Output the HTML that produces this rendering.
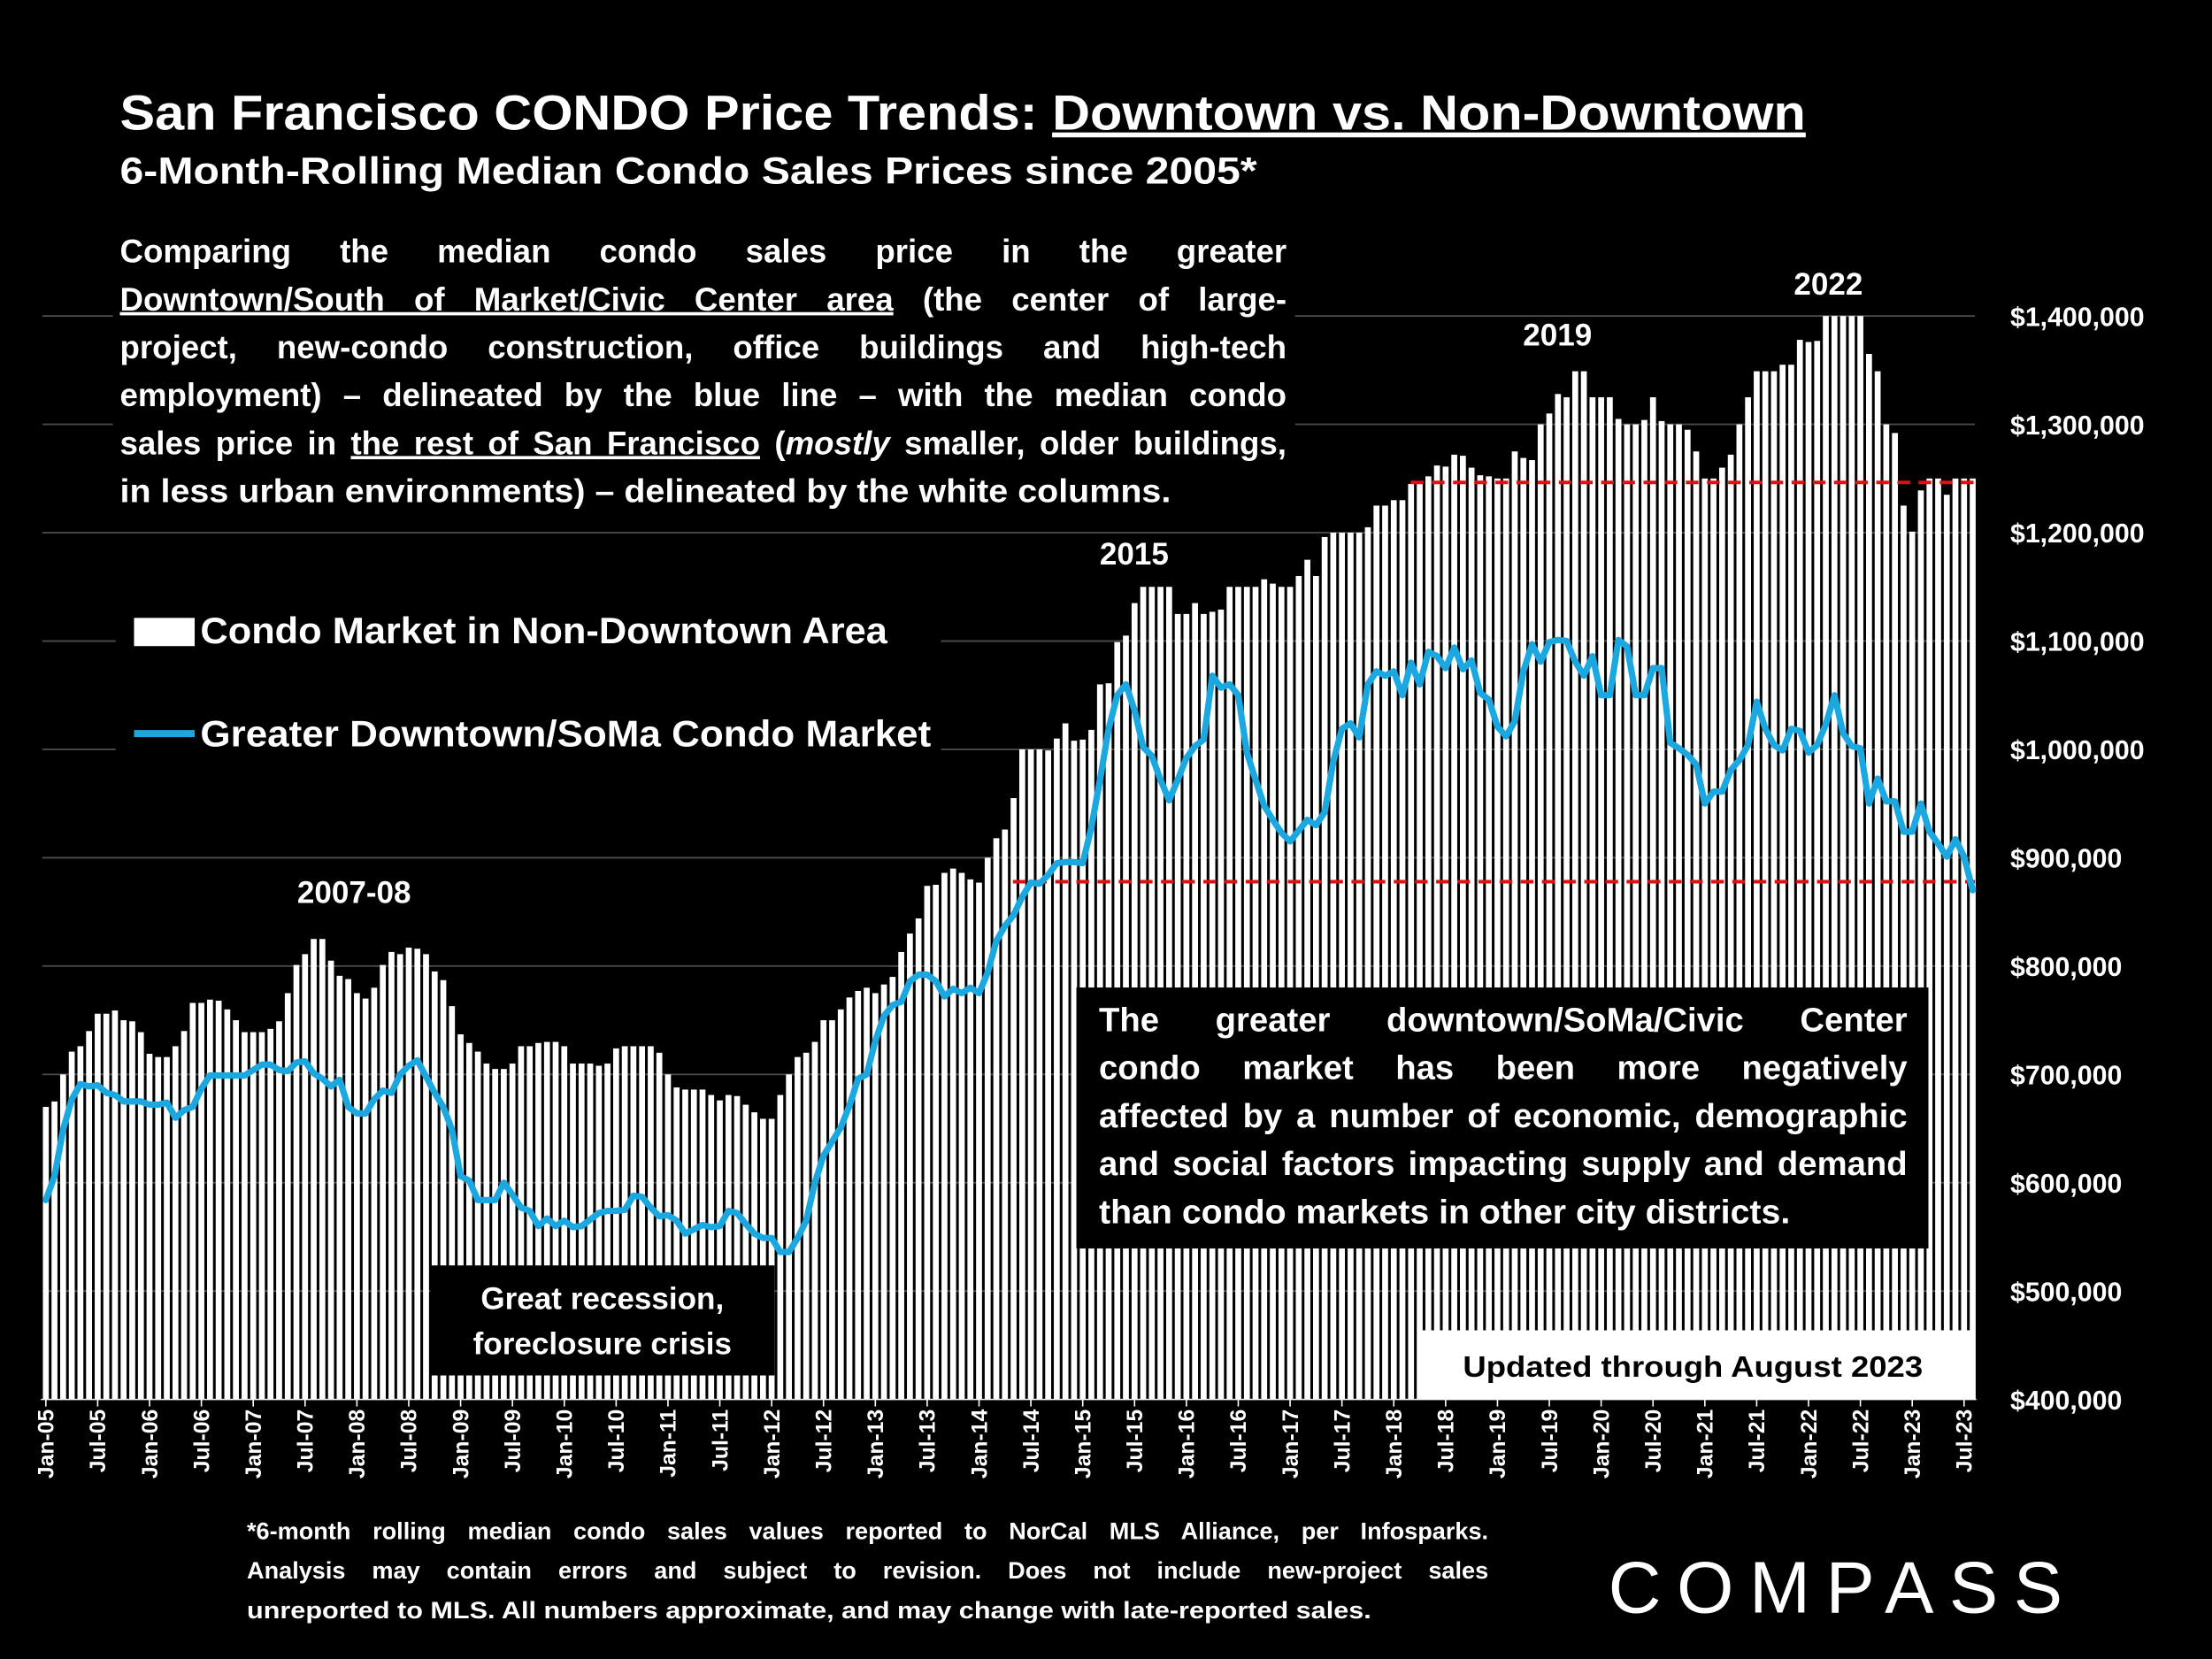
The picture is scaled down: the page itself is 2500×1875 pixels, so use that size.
<!DOCTYPE html>
<html><head><meta charset="utf-8"><style>
html,body{margin:0;padding:0;background:#000;}
svg{display:block;}
text{font-family:"Liberation Sans",Arial,sans-serif;font-weight:bold;fill:#fff;}
.u{text-decoration:underline;}
</style></head><body>
<svg id="chart" width="2500" height="1875" viewBox="0 0 1568 1176" xmlns="http://www.w3.org/2000/svg">
<rect x="0" y="0" width="1568" height="1176" fill="#000"/>
<g id="grid"></g>
<g id="bars"></g>
<line x1="1000" y1="342" x2="1400" y2="342" stroke="#e01010" stroke-width="2.5" stroke-dasharray="9,6"/>
<line x1="718" y1="625" x2="1400" y2="625" stroke="#e01010" stroke-width="2.5" stroke-dasharray="9,6"/>
<g id="line"></g>
<g id="yaxis"></g>
<g id="xaxis"></g>

<text x="85" y="92" font-size="35" textLength="1195" lengthAdjust="spacingAndGlyphs">San Francisco CONDO Price Trends: <tspan class="u">Downtown vs. Non-Downtown</tspan></text>
<text x="85" y="130" font-size="27" textLength="806" lengthAdjust="spacingAndGlyphs">6-Month-Rolling Median Condo Sales Prices since 2005*</text>

<g>
<rect x="80" y="160" width="838" height="205" fill="#000"/>
<text class="just" data-w="827" x="85" y="186" font-size="23">Comparing the median condo sales price in the greater</text>
<text class="just" data-w="827" x="85" y="220" font-size="23"><tspan class="u">Downtown/South of Market/Civic Center area</tspan> (the center of large-</text>
<text class="just" data-w="827" x="85" y="254" font-size="23">project, new-condo construction, office buildings and high-tech</text>
<text class="just" data-w="827" x="85" y="288" font-size="23">employment) – delineated by the blue line – with the median condo</text>
<text class="just" data-w="827" x="85" y="322" font-size="23">sales price in <tspan class="u">the rest of San Francisco</tspan> (<tspan font-style="italic">mostly</tspan> smaller, older buildings,</text>
<text x="85" y="356" font-size="23" textLength="745" lengthAdjust="spacingAndGlyphs">in less urban environments) – delineated by the white columns.</text>
</g>

<g>
<rect x="82" y="420" width="585" height="125" fill="#000"/>
<rect x="95" y="438" width="43" height="20" fill="#fff"/>
<text x="142" y="456" font-size="26" textLength="487" lengthAdjust="spacingAndGlyphs">Condo Market in Non-Downtown Area</text>
<line x1="95" y1="520" x2="138" y2="520" stroke="#1ba8e0" stroke-width="5"/>
<text x="142" y="529" font-size="26" textLength="518" lengthAdjust="spacingAndGlyphs">Greater Downtown/SoMa Condo Market</text>
</g>

<text x="251" y="640" font-size="22" text-anchor="middle">2007-08</text>
<text x="804" y="400" font-size="22" text-anchor="middle">2015</text>
<text x="1104" y="245" font-size="22" text-anchor="middle">2019</text>
<text x="1296" y="209" font-size="22" text-anchor="middle">2022</text>

<g>
<rect x="305" y="897" width="244" height="78" fill="#000"/>
<text x="427" y="928" font-size="22" text-anchor="middle">Great recession,</text>
<text x="427" y="960" font-size="22" text-anchor="middle">foreclosure crisis</text>
</g>

<g>
<rect x="763" y="700" width="604" height="185" fill="#000"/>
<text class="just" data-w="573" x="779" y="731" font-size="24">The greater downtown/SoMa/Civic Center</text>
<text class="just" data-w="573" x="779" y="765" font-size="24">condo market has been more negatively</text>
<text class="just" data-w="573" x="779" y="799" font-size="24">affected by a number of economic, demographic</text>
<text class="just" data-w="573" x="779" y="833" font-size="24">and social factors impacting supply and demand</text>
<text x="779" y="867" font-size="24" textLength="490" lengthAdjust="spacingAndGlyphs">than condo markets in other city districts.</text>
</g>

<g>
<rect x="1005" y="943" width="393" height="49" fill="#fff"/>
<text x="1200" y="976" font-size="21" text-anchor="middle" textLength="326" lengthAdjust="spacingAndGlyphs" style="fill:#000">Updated through August 2023</text>
</g>

<g>
<text class="just" data-w="880" x="175" y="1091" font-size="17">*6-month rolling median condo sales values reported to NorCal MLS Alliance, per Infosparks.</text>
<text class="just" data-w="880" x="175" y="1119" font-size="17">Analysis may contain errors and subject to revision. Does not include new-project sales</text>
<text x="175" y="1147" font-size="17" textLength="797" lengthAdjust="spacingAndGlyphs">unreported to MLS. All numbers approximate, and may change with late-reported sales.</text>
</g>

<text x="1140" y="1143" font-size="52" textLength="322" lengthAdjust="spacing" style="font-weight:normal;">COMPASS</text>
</svg>
<script>
const months = ['Jan','Feb','Mar','Apr','May','Jun','Jul','Aug','Sep','Oct','Nov','Dec'];
const yTicks = [400000,500000,600000,700000,800000,900000,1000000,1100000,1200000,1300000,1400000];
const nonDowntownValues = [
670,675,700,721,726,740,756,756,759,750,749,739,
719,716,716,726,740,766,766,769,768,760,750,739,
739,739,742,749,775,801,811,825,825,805,791,788,
775,770,780,801,813,811,817,816,811,795,787,763,
737,729,721,710,705,705,710,726,726,729,730,730,
726,710,710,710,708,710,724,726,726,726,726,720,
700,688,686,686,686,681,676,681,680,672,665,659,
659,681,700,716,720,730,750,750,760,771,777,780,
775,783,790,813,830,844,874,875,886,890,886,880,
877,900,918,926,955,1000,1000,1000,999,1010,1024,1008,
1009,1018,1060,1061,1099,1105,1135,1150,1150,1150,1150,1125,
1125,1135,1125,1127,1129,1150,1150,1150,1150,1157,1153,1150,
1150,1160,1175,1160,1196,1200,1200,1200,1200,1205,1225,1225,
1230,1230,1245,1245,1252,1262,1261,1272,1271,1260,1253,1252,
1250,1250,1275,1269,1267,1300,1310,1328,1325,1349,1349,1325,
1325,1325,1305,1300,1300,1304,1325,1303,1300,1300,1295,1275,
1250,1250,1260,1272,1300,1325,1349,1349,1349,1355,1355,1378,
1376,1377,1400,1400,1400,1400,1400,1365,1349,1300,1292,1225,
1201,1239,1250,1250,1235,1250,1250,1250];
const downtownValues = [
584,606,649,677,691,689,690,683,681,675,675,675,
672,672,674,660,667,670,687,699,699,699,699,699,
704,709,709,704,703,711,712,701,696,689,695,670,
664,664,677,685,683,700,708,713,698,683,670,649,
606,602,584,584,584,600,589,577,574,560,567,560,
565,559,560,566,572,574,574,575,588,587,577,569,
570,565,553,557,561,559,560,574,572,562,553,549,
549,536,536,549,565,600,625,638,651,671,696,700,
731,754,764,767,786,792,792,786,772,779,775,780,
775,794,823,837,847,864,877,876,884,895,896,896,
895,928,972,1019,1050,1060,1036,1002,994,972,953,972,
992,1003,1009,1068,1057,1060,1050,997,972,948,935,923,
915,925,935,930,942,989,1019,1024,1011,1060,1072,1068,
1072,1050,1080,1060,1090,1086,1075,1094,1074,1082,1052,1046,
1021,1012,1026,1072,1097,1081,1099,1101,1100,1081,1068,1086,
1050,1050,1101,1095,1050,1050,1075,1075,1006,1001,995,986,
950,961,961,981,990,1004,1044,1019,1004,999,1019,1017,
997,1004,1023,1050,1015,1003,1001,950,973,952,952,924,
924,950,924,913,901,917,901,870];
const startYear = 2005;

const NS = 'http://www.w3.org/2000/svg';
const x0 = 32.5, step = 6.125, yBase = 992, yTop = 224, vMin = 400000, vMax = 1400000;
function xPos(i){ return x0 + i*step; }
function yPos(v){ return yBase - (v - vMin)/(vMax - vMin)*(yBase - yTop); }
function mk(tag, attrs){ const e = document.createElementNS(NS, tag); for (const k in attrs) e.setAttribute(k, attrs[k]); return e; }

document.querySelectorAll('text.just').forEach(t => {
  const target = parseFloat(t.getAttribute('data-w'));
  const nat = t.getComputedTextLength();
  const spaces = (t.textContent.match(/ /g) || []).length;
  if (spaces > 0 && target > nat) t.setAttribute('word-spacing', ((target - nat) / spaces).toFixed(2));
  else if (target < nat) { t.setAttribute('textLength', target); t.setAttribute('lengthAdjust', 'spacingAndGlyphs'); }
});

const grid = document.getElementById('grid');
const yaxis = document.getElementById('yaxis');
yTicks.forEach(v => {
  const y = yPos(v);
  if (v > vMin) {
    const gl = mk('line', {x1: 30, x2: 1400, y1: y, y2: y, stroke: '#4a4a4a', 'stroke-width': 1.2});
    
    
    grid.appendChild(gl);
  }
  const t = mk('text', {x: 1425, y: y + 7, 'font-size': 19});
  t.textContent = '$' + v.toLocaleString('en-US');
  
  
  yaxis.appendChild(t);
});

const bars = document.getElementById('bars');
nonDowntownValues.forEach((v, i) => {
  const val = Math.min(v*1000, vMax);
  const y = yPos(val);
  const r = mk('rect', {x: xPos(i) - 2.1, y: y, width: 4.2, height: yBase - y, fill: '#fff'});
  
  
  bars.appendChild(r);
});

const lg = document.getElementById('line');
const pts = downtownValues.map((v, i) => xPos(i).toFixed(2) + ',' + yPos(v*1000).toFixed(2)).join(' ');
const pl = mk('polyline', {points: pts, fill: 'none', stroke: '#1ba8e0', 'stroke-width': 4.5, 'stroke-linejoin': 'round', 'stroke-linecap': 'round'});


lg.appendChild(pl);

const xaxis = document.getElementById('xaxis');
const axl = mk('line', {x1: 29, x2: 1401, y1: yBase, y2: yBase, stroke: '#fff', 'stroke-width': 1});


xaxis.appendChild(axl);
for (let i = 0; i < nonDowntownValues.length; i += 6) {
  const m = months[i % 12];
  const yr = String(startYear + Math.floor(i/12)).slice(2);
  const x = xPos(i);
  const tk = mk('line', {x1: x, x2: x, y1: yBase, y2: yBase + 5, stroke: '#fff', 'stroke-width': 1});
  
  
  xaxis.appendChild(tk);
  const t = mk('text', {x: 0, y: 0, 'font-size': 15.5, 'text-anchor': 'end', transform: 'translate(' + (x + 5.5) + ',' + (yBase + 7) + ') rotate(-90)'});
  t.textContent = m + '-' + yr;
  
  
  xaxis.appendChild(t);
}
</script>
</body></html>
